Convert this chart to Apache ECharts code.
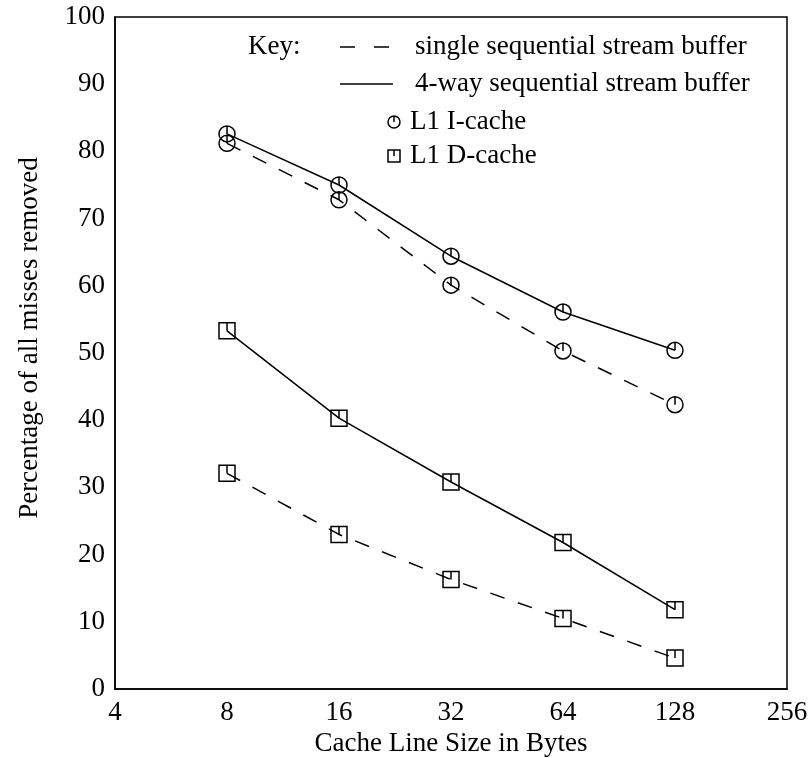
<!DOCTYPE html>
<html>
<head>
<meta charset="utf-8">
<script src="https://cdn.jsdelivr.net/npm/echarts@6/dist/echarts.min.js"></script>
<style>
  html, body { margin: 0; padding: 0; background: #fff; }
  #chart { width: 811px; height: 758px; }
</style>
</head>
<body>
<div id="chart"></div>
<script>
// data
const lineSizes = [8, 16, 32, 64, 128];
const iCache4Way = [82.6, 75.0, 64.4, 56.1, 50.4];
const iCacheSingle = [81.2, 72.8, 60.1, 50.3, 42.3];
const dCache4Way = [53.3, 40.3, 30.8, 21.8, 11.8];
const dCacheSingle = [32.1, 23.0, 16.3, 10.5, 4.6];

const keyLabels = [
  "single sequential stream buffer",
  "4-way sequential stream buffer",
  "L1 I-cache",
  "L1 D-cache",
];

const FONT = "Liberation Serif";
const circleMark = "path://M0,-8 A8,8 0 1,1 -0.001,-8 Z M0,-8 L0,0";
const squareMark = "path://M-8,-8 L8,-8 L8,8 L-8,8 Z M0,-8 L0,0";

function pairs(ys) {
  return lineSizes.map((x, i) => [x, ys[i]]);
}

function makeSeries(name, ys, mark, dashed) {
  return {
    name: name,
    type: "line",
    data: pairs(ys),
    symbol: mark,
    symbolSize: 16,
    showSymbol: true,
    z: 3,
    lineStyle: {
      color: "#000",
      width: 1.5,
      type: dashed ? [15, 14] : "solid",
    },
    itemStyle: {
      color: "rgba(0,0,0,0)",
      borderColor: "#000",
      borderWidth: 1.5,
    },
    emphasis: { disabled: true },
  };
}

const keyText = (x, y, s) => ({
  type: "text", x: x, y: y,
  style: { text: s, font: "27px " + FONT, fill: "#000", textVerticalAlign: "middle" },
});
const stroke = { stroke: "#000", lineWidth: 1.5, fill: "none" };

const chart = echarts.init(document.getElementById("chart"));

const option = {
  backgroundColor: "#fff",
  animation: false,
  textStyle: { fontFamily: FONT, color: "#000" },
  grid: {
    left: 115,
    right: 24,
    top: 17,
    bottom: 69,
    show: true,
    borderColor: "#000",
    borderWidth: 1.5,
    containLabel: false,
    outerBoundsMode: "none",
  },
  xAxis: {
    type: "log",
    logBase: 2,
    min: 4,
    max: 256,
    interval: 1,
    name: "Cache Line Size in Bytes",
    nameLocation: "middle",
    nameGap: 32,
    nameTextStyle: { fontFamily: FONT, fontSize: 27, color: "#000" },
    axisLine: { lineStyle: { color: "#000", width: 1.5 } },
    axisTick: { show: false },
    splitLine: { show: false },
    axisLabel: { fontFamily: FONT, fontSize: 27, color: "#000", margin: 10 },
  },
  yAxis: {
    type: "value",
    min: 0,
    max: 100,
    interval: 10,
    name: "Percentage of all misses removed",
    nameLocation: "middle",
    nameGap: 72,
    nameTextStyle: { fontFamily: FONT, fontSize: 27, color: "#000", padding: [0, 0, 0, 30] },
    axisLine: { show: true, lineStyle: { color: "#000", width: 1.5 } },
    axisTick: { show: false },
    splitLine: { show: false },
    axisLabel: { fontFamily: FONT, fontSize: 27, color: "#000", margin: 10 },
  },
  series: [
    makeSeries("I-cache 4-way", iCache4Way, circleMark, false),
    makeSeries("I-cache single", iCacheSingle, circleMark, true),
    makeSeries("D-cache 4-way", dCache4Way, squareMark, false),
    makeSeries("D-cache single", dCacheSingle, squareMark, true),
  ],
  graphic: [
    keyText(248, 47, "Key:"),
    { type: "line", shape: { x1: 340, y1: 47, x2: 389, y2: 47 },
      style: { stroke: "#000", lineWidth: 1.5, lineDash: [15, 19] } },
    keyText(415, 47, keyLabels[0]),
    { type: "line", shape: { x1: 340, y1: 84, x2: 393, y2: 84 }, style: stroke },
    keyText(415, 84, keyLabels[1]),
    { type: "circle", shape: { cx: 394, cy: 122, r: 6 }, style: stroke },
    { type: "line", shape: { x1: 394, y1: 116, x2: 394, y2: 122 }, style: stroke },
    keyText(410, 122, keyLabels[2]),
    { type: "rect", shape: { x: 388, y: 150, width: 12, height: 12 }, style: stroke },
    { type: "line", shape: { x1: 394, y1: 150, x2: 394, y2: 156 }, style: stroke },
    keyText(410, 156, keyLabels[3]),
  ],
};

chart.setOption(option);
</script>
</body>
</html>
